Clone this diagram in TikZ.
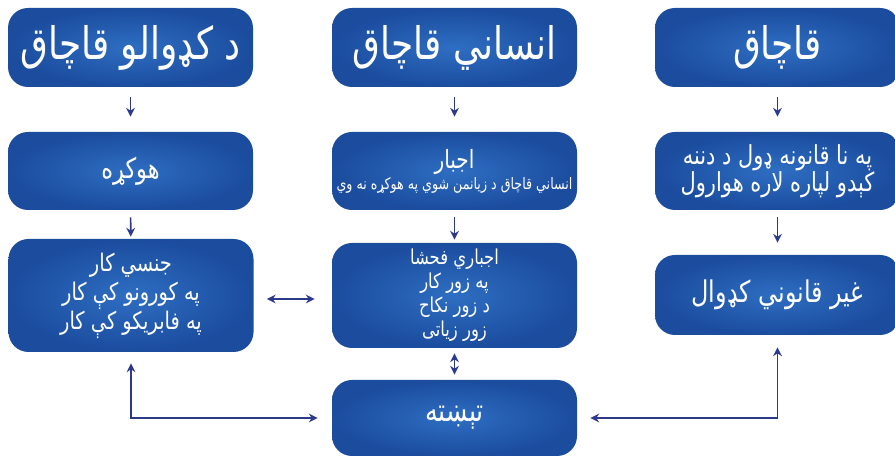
\documentclass[tikz,border=0pt]{standalone}
\usepackage{fontspec}
\newfontfamily\pashto[Script=Arabic,FakeStretch=0.8]{DejaVu Sans}
\TeXXeTstate=1
\usetikzlibrary{arrows.meta}
\definecolor{boxdark}{RGB}{27,76,158}
\definecolor{boxlight}{RGB}{46,110,194}
\definecolor{linkblue}{RGB}{44,58,140}

\begin{document}
\begin{tikzpicture}[box/.style={rounded corners=0.4cm, inner color=boxlight, outer color=boxdark, text=white, minimum width=4.9cm, inner sep=1pt, align=center, font=\pashto},
    link/.style={linkblue, line width=0.9pt, -{Stealth[length=5pt,width=5pt]}},
    both/.style={linkblue, line width=0.9pt, {Stealth[length=5pt,width=5pt]}-{Stealth[length=5pt,width=5pt]}}]
        \useasboundingbox (0,0) rectangle (17.9,9.16);

        \node[box, minimum height=1.58cm, font=\pashto\fontsize{25.5}{30}\selectfont] (migrsmug) at (2.61,8.21) {\beginR د کډوالو قاچاق\endR};
        \node[box, minimum height=1.58cm, font=\pashto\fontsize{25.5}{30}\selectfont] (humtraf) at (9.09,8.21) {\beginR انساني قاچاق\endR};
        \node[box, minimum height=1.58cm, font=\pashto\fontsize{25.5}{30}\selectfont] (smuggling) at (15.55,8.21) {\beginR قاچاق\endR};
        \node[box, minimum height=1.56cm, font=\pashto\fontsize{16}{19}\selectfont] (consent) at (2.61,5.74) {\beginR هوکړه\endR};
        \node[box, minimum height=1.56cm, font=\pashto\fontsize{9}{12}\selectfont] (coercion) at (9.09,5.74) {{\fontsize{14.3}{16}\selectfont\beginR اجبار\endR}\\\beginR انساني قاچاق د زیانمن شوي په هوکړه نه وي\endR};
        \node[box, minimum height=1.56cm, font=\pashto\fontsize{14.9}{15.5}\selectfont] (entry) at (15.55,5.74) {\beginR په نا قانونه ډول د دننه\endR\\\beginR کېدو لپاره لاره هوارول\endR};
        \node[box, minimum height=2.26cm, font=\pashto\fontsize{13.8}{16.5}\selectfont] (labour) at (2.62,3.25) {\beginR جنسي کار\endR\\\beginR په کورونو کې کار\endR\\\beginR په فابریکو کې کار\endR};
        \node[box, minimum height=2.1cm, font=\pashto\fontsize{11.7}{13.6}\selectfont] (forced) at (9.09,3.25) {\beginR اجباري فحشا\endR\\\beginR په زور کار\endR\\\beginR د زور نکاح\endR\\\beginR زور زیاتی\endR};
        \node[box, minimum height=1.6cm, font=\pashto\fontsize{17}{20}\selectfont] (illegal) at (15.55,3.26) {\beginR غیر قانوني کډوال\endR};
        \node[box, minimum height=1.52cm, font=\pashto\fontsize{18}{21}\selectfont] (escape) at (9.09,0.8) {\beginR تېښته\endR};

        \draw[link, shorten <=0.2cm, shorten >=0.3cm] (migrsmug) -- (consent);
        \draw[link, shorten <=0.2cm, shorten >=0.3cm] (humtraf) -- (coercion);
        \draw[link, shorten <=0.2cm, shorten >=0.3cm] (smuggling) -- (entry);
        \draw[link, shorten <=0.14cm, shorten >=0.04cm] (consent) -- (labour);
        \draw[link, shorten <=0.14cm, shorten >=0.06cm] (coercion) -- (forced);
        \draw[link, shorten <=0.14cm, shorten >=0.24cm] (entry) -- (illegal);
        \draw[both, shorten <=0.26cm, shorten >=0.34cm] ([yshift=-0.07cm]labour.east) -- ([yshift=-0.07cm]forced.west);
        \draw[both, shorten <=0.1cm, shorten >=0.1cm] (forced) -- (escape);
        \draw[both, shorten <=0.28cm, shorten >=0.22cm] (escape.west) -| (labour.south);
        \draw[both, shorten <=0.26cm, shorten >=0.24cm] (escape.east) -| (illegal.south);
    \end{tikzpicture}
\end{document}
